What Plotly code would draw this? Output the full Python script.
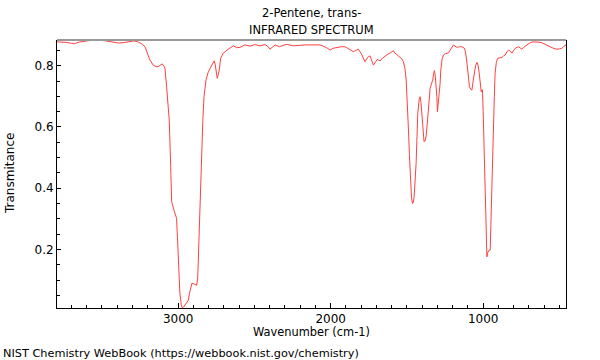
import plotly.graph_objects as go

wavenumber = [3795,3760,3730,3700,3680,3650,3610,3560,3510,3470,3430,3390,3350,3310,3290,3260,3235,3218,3200,3186,
3164,3145,3131,3115,3105,3095,3087,3076,3059,3050,3043,3032,3022,3011,3005,3000,2989,2980,2974,2965,
2956,2945,2934,2925,2917,2910,2902,2890,2879,2872,2869,2863,2858,2847,2838,2831,2818,2803,2790,2781,
2770,2764,2758,2755,2748,2744,2738,2731,2722,2705,2672,2639,2617,2595,2562,2530,2497,2464,2431,2410,
2398,2380,2365,2337,2289,2245,2200,2157,2110,2070,2030,2004,1985,1961,1930,1906,1880,1852,1835,1819,
1800,1785,1775,1765,1752,1742,1730,1720,1710,1694,1685,1676,1660,1644,1625,1611,1600,1589,1580,1571,
1558,1545,1533,1523,1513,1505,1497,1490,1484,1479,1470,1464,1458,1453,1446,1440,1434,1429,1420,1414,
1408,1403,1395,1388,1380,1375,1367,1360,1354,1348,1340,1331,1325,1320,1315,1309,1304,1300,1294,1289,
1283,1278,1270,1261,1245,1228,1210,1195,1185,1173,1155,1140,1125,1119,1110,1103,1095,1090,1080,1074,
1066,1059,1050,1041,1033,1026,1018,1013,1008,1005,1000,998,992,987,982,976,970,965,954,948,
943,938,933,927,922,914,906,890,877,866,856,845,834,823,812,800,790,768,757,746,
735,725,710,692,675,659,640,615,590,561,540,517,500,484,470,457]

transmittance = [0.878,0.878,0.876,0.873,0.872,0.877,0.881,0.884,0.884,0.880,0.876,0.874,0.876,0.880,0.881,0.877,0.870,0.862,0.840,0.819,
0.802,0.797,0.797,0.803,0.806,0.800,0.792,0.731,0.623,0.482,0.356,0.335,0.319,0.302,0.240,0.176,0.056,0.020,0.010,0.012,
0.018,0.025,0.034,0.060,0.083,0.090,0.089,0.085,0.083,0.110,0.154,0.260,0.372,0.535,0.630,0.699,0.753,0.780,0.792,0.802,
0.812,0.816,0.805,0.797,0.770,0.759,0.770,0.786,0.824,0.841,0.854,0.865,0.859,0.860,0.868,0.864,0.869,0.865,0.869,0.862,
0.854,0.862,0.868,0.862,0.870,0.865,0.867,0.868,0.868,0.868,0.860,0.851,0.857,0.860,0.862,0.862,0.855,0.846,0.850,0.854,
0.840,0.820,0.813,0.822,0.830,0.832,0.815,0.802,0.810,0.821,0.818,0.816,0.825,0.832,0.838,0.841,0.846,0.849,0.842,0.838,
0.833,0.829,0.822,0.813,0.790,0.753,0.680,0.590,0.510,0.437,0.370,0.350,0.355,0.372,0.420,0.481,0.570,0.644,0.690,0.699,
0.680,0.644,0.590,0.552,0.555,0.568,0.610,0.655,0.700,0.726,0.740,0.753,0.775,0.784,0.770,0.742,0.700,0.650,0.680,0.699,
0.740,0.786,0.820,0.835,0.840,0.842,0.855,0.868,0.864,0.860,0.862,0.862,0.858,0.851,0.825,0.797,0.750,0.731,0.722,0.721,
0.750,0.775,0.800,0.811,0.800,0.775,0.740,0.715,0.722,0.721,0.650,0.590,0.480,0.394,0.300,0.176,0.190,0.196,0.198,0.290,
0.372,0.480,0.590,0.700,0.775,0.810,0.824,0.826,0.827,0.832,0.835,0.845,0.851,0.848,0.841,0.850,0.857,0.862,0.858,0.854,
0.860,0.864,0.870,0.875,0.878,0.878,0.877,0.875,0.868,0.862,0.857,0.854,0.855,0.857,0.864,0.868]

x_range = [3795, 457]
y_range = [0.009, 0.884]

FONT = "DejaVu Sans"

fig = go.Figure()
fig.add_trace(go.Scatter(x=wavenumber, y=transmittance, mode="lines",
                         line=dict(color="#ff4040", width=1), hoverinfo="skip"))

fig.update_layout(
    width=600, height=360,
    margin=dict(l=57, r=34, t=40, b=52),
    paper_bgcolor="white", plot_bgcolor="white",
    showlegend=False,
    font=dict(family=FONT, size=12, color="black"),
    xaxis=dict(range=x_range, showgrid=False, zeroline=False,
               showline=True, linecolor="black", linewidth=1,
               ticks="inside", ticklen=5, tickcolor="black", tickwidth=1,
               tick0=0, dtick=1000, tickfont=dict(size=12),
               minor=dict(ticks="inside", ticklen=3, dtick=100, tick0=0, tickcolor="black")),
    yaxis=dict(range=y_range, showgrid=False, zeroline=False,
               showline=True, linecolor="black", linewidth=1, mirror=True,
               ticks="inside", ticklen=4, tickcolor="black", tickwidth=1,
               tick0=0, dtick=0.2, tickformat=".1f", tickfont=dict(size=12),
               minor=dict(ticks="inside", ticklen=3, dtick=0.05, tick0=0, tickcolor="black")),
    shapes=[dict(type="line", xref="paper", yref="paper", x0=0, x1=1, y0=1, y1=1,
                 line=dict(color="#999999", width=2))],
    annotations=[
        dict(text="2-Pentene, trans-", xref="paper", yref="paper", x=0.5, y=1,
             yshift=27, showarrow=False, font=dict(size=11.5), xanchor="center", yanchor="middle"),
        dict(text="INFRARED SPECTRUM", xref="paper", yref="paper", x=0.5, y=1,
             yshift=10, showarrow=False, font=dict(size=11.5), xanchor="center", yanchor="middle"),
        dict(text="Wavenumber (cm-1)", xref="paper", yref="paper", x=0.5, y=0,
             yshift=-24, showarrow=False, font=dict(size=11.4), xanchor="center", yanchor="middle"),
        dict(text="Transmitance", xref="paper", yref="paper", x=0, y=0.5, xshift=-47,
             textangle=-90, showarrow=False, font=dict(size=12), xanchor="center", yanchor="middle"),
        dict(text="NIST Chemistry WebBook (https://webbook.nist.gov/chemistry)", xref="paper", yref="paper",
             x=0, y=0, xshift=-56, yshift=-45, showarrow=False, font=dict(size=11.3),
             xanchor="left", yanchor="middle"),
    ],
)

fig.write_html("out.html", config={"displayModeBar": False},
               post_script="document.body.style.margin='0';document.body.style.overflow='hidden';")
